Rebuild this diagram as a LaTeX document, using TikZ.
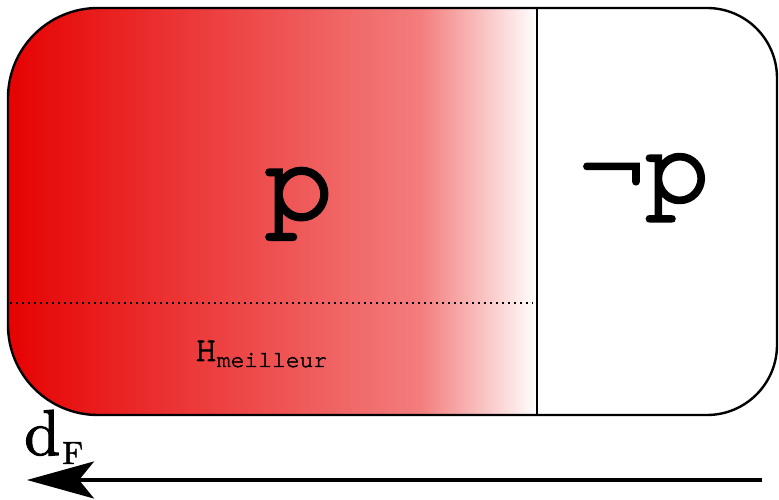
\documentclass[tikz,border=0pt]{standalone}
\usepackage{fontspec}
\newfontfamily\cursorheavy{texgyrecursor-regular.otf}[FakeBold=3]
\newfontfamily\cursormed{texgyrecursor-regular.otf}[FakeBold=2]
\newfontfamily\lmten{lmroman10-regular.otf}[FakeBold=1.5]
\usetikzlibrary{arrows.meta}
\definecolor{redA}{RGB}{230,2,2}
\definecolor{redB}{RGB}{243,125,125}
\pgfdeclarehorizontalshading{redfade}{100bp}{color(0bp)=(redA); color(25bp)=(redA); color(64bp)=(redB); color(75bp)=(white); color(100bp)=(white)}
\begin{document}
\begin{tikzpicture}[x=1pt,y=1pt,
  outline/.style={line width=2.4pt},
  divider/.style={line width=2.6pt},
  dotline/.style={line width=2.2pt, dash pattern=on 2.2pt off 3.8pt},
  bigp/.style={inner sep=0pt, anchor=base, font=\cursorheavy\fontsize{115}{115}\selectfont},
  negp/.style={inner sep=0pt, anchor=base, font=\cursorheavy\fontsize{108}{108}\selectfont},
  lbl/.style={inner sep=0pt, anchor=base west},
  bigarrow/.style={line width=3.5pt, -{Stealth[length=67pt,width=37pt,inset=15pt]}}]
\useasboundingbox (0,0) rectangle (779,500);
% shaded part
\shade[shading=redfade] (537,492) -- (98,492) arc[start angle=90,end angle=180,radius=90]
  -- (8,175) arc[start angle=180,end angle=270,radius=90] -- (537,85) -- cycle;
% outline
\draw[outline] (98,492) -- (707,492) arc[start angle=90,end angle=0,radius=70]
  -- (777,155) arc[start angle=0,end angle=-90,radius=70]
  -- (98,85) arc[start angle=270,end angle=180,radius=90]
  -- (8,402) arc[start angle=180,end angle=90,radius=90] -- cycle;
\coordinate (vt) at (537,492);
\coordinate (vb) at (537,85);
\draw[divider] (vt) -- (vb);
\coordinate (dl) at (10,197);
\coordinate (dr) at (533,197);
\draw[dotline] (dl) -- (dr);
\node[bigp] (p) at (299,282) {p};
\node[negp] (np) at (645,299) {¬p};
\node[lbl] (h) at (195,139) {\cursormed\fontsize{36}{36}\selectfont H\raisebox{-6pt}{\fontsize{23}{23}\selectfont meilleur}};
\node[lbl] (d) at (24,45) {\lmten\fontsize{65}{65}\selectfont d\kern2pt\raisebox{-9pt}{\fontsize{32}{32}\selectfont F}};
\coordinate (as) at (762,20);
\coordinate (ae) at (27,20);
\draw[bigarrow] (as) -- (ae);
\end{tikzpicture}
\end{document}
